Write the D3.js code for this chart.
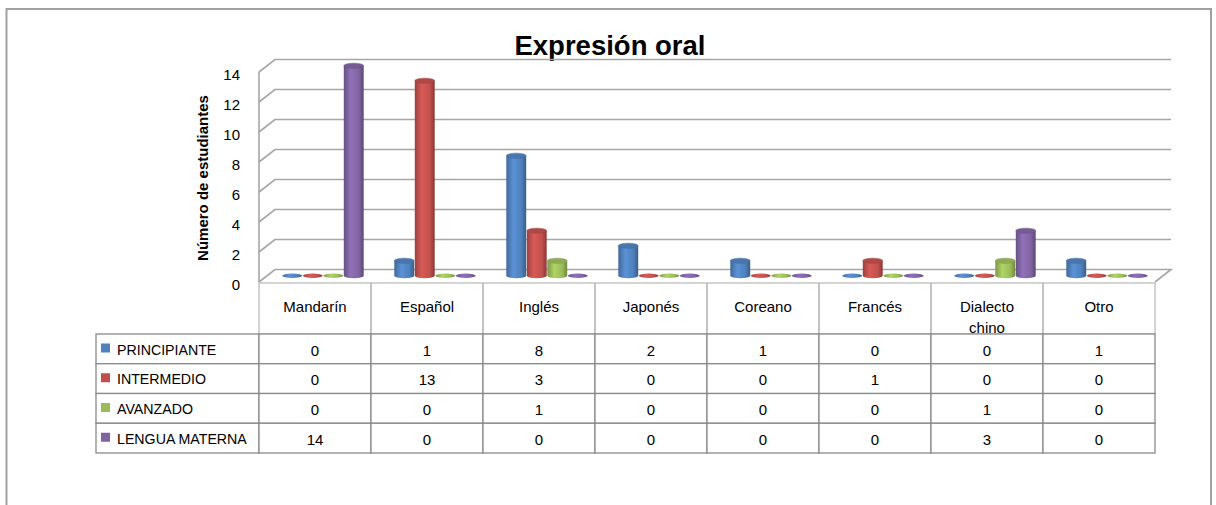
<!DOCTYPE html>
<html>
<head>
<meta charset="utf-8">
<script src="https://cdn.jsdelivr.net/npm/d3@7"></script>
<style>
  html, body { margin: 0; padding: 0; background: #fff; }
  svg { display: block; font-family: "Liberation Sans", Arial, sans-serif; }
</style>
</head>
<body>
<svg id="chart" width="1216" height="505"></svg>
<script>
// Data
const categories = ["Mandarín", "Español", "Inglés", "Japonés", "Coreano", "Francés", "Dialecto chino", "Otro"];
const seriesNames = ["PRINCIPIANTE", "INTERMEDIO", "AVANZADO", "LENGUA MATERNA"];
const principiante = [0, 1, 8, 2, 1, 0, 0, 1];
const intermedio = [0, 13, 3, 0, 0, 1, 0, 0];
const avanzado = [0, 0, 1, 0, 0, 0, 1, 0];
const lenguaMaterna = [14, 0, 0, 0, 0, 0, 3, 0];
const seriesValues = [principiante, intermedio, avanzado, lenguaMaterna];
const yTicks = [0, 2, 4, 6, 8, 10, 12, 14];
const seriesColors = ["#4F81BD", "#C0504D", "#9BBB59", "#8064A2"];

const svg = d3.select("#chart");

// Layout
const plotLeft = 259, plotRight = 1155;
const floorFront = 282;
const depthX = 16, depthY = -12.5;
const gridColor = "#a6a6a6";

const x = d3.scaleBand().domain(categories).range([plotLeft, plotRight]).padding(0);
const bw = x.bandwidth();
const xs = d3.scaleBand().domain(seriesNames).range([bw / 2 - 41, bw / 2 + 41]).padding(0);
const y = d3.scaleLinear().domain([0, 14]).range([0, 210]);

// Outer frame
svg.append("path")
  .attr("d", "M6.5,505 V9 H1211 V505")
  .attr("fill", "none").attr("stroke", "#a0a0a0").attr("stroke-width", 2);

// Title
svg.append("text")
  .attr("x", 610).attr("y", 55)
  .attr("text-anchor", "middle")
  .attr("font-weight", "bold").attr("font-size", 27.5)
  .attr("fill", "#000")
  .text("Expresión oral");

// Y axis title
svg.append("text")
  .attr("transform", "translate(208,178) rotate(-90)")
  .attr("text-anchor", "middle")
  .attr("font-weight", "bold").attr("font-size", 15)
  .text("Número de estudiantes");

// Walls and gridlines
const grid = svg.append("g").attr("fill", "none").attr("stroke", gridColor).attr("stroke-width", 1.6);
yTicks.forEach(t => {
  const yf = floorFront - y(t);
  if (t > 0) {
    grid.append("path").attr("d", `M${plotLeft},${yf} L${plotLeft + depthX},${yf + depthY} H${plotRight + depthX}`);
  }
});
// Floor
grid.append("path")
  .attr("d", `M${plotLeft},${floorFront} L${plotLeft + depthX},${floorFront + depthY} H${plotRight + depthX} L${plotRight},${floorFront}`);
// Front vertical axis line
grid.append("line")
  .attr("x1", plotLeft).attr("x2", plotLeft)
  .attr("y1", floorFront - y(14)).attr("y2", floorFront);

// Tick labels
svg.append("g").selectAll("text").data(yTicks).join("text")
  .attr("x", 240).attr("y", d => floorFront - y(d) + 8)
  .attr("text-anchor", "end").attr("font-size", 15).attr("fill", "#000")
  .text(d => d);

// Gradients for cylinders
const defs = svg.append("defs");
seriesColors.forEach((c, i) => {
  const base = d3.color(c);
  const g = defs.append("linearGradient").attr("id", "cyl" + i).attr("x1", 0).attr("x2", 1).attr("y1", 0).attr("y2", 0);
  g.append("stop").attr("offset", "0%").attr("stop-color", base.darker(0.6));
  g.append("stop").attr("offset", "35%").attr("stop-color", base.brighter(0.35));
  g.append("stop").attr("offset", "75%").attr("stop-color", base);
  g.append("stop").attr("offset", "100%").attr("stop-color", base.darker(0.9));
});

// Cylinders
const barBase = floorFront + depthY / 2;
const rx = xs.bandwidth() / 2 - 0.3, ry = 2.6;
const bars = [];
seriesValues.forEach((vals, si) => {
  vals.forEach((v, ci) => bars.push({ si, ci, v }));
});
const barG = svg.append("g");
bars.forEach(b => {
  const cx = x(categories[b.ci]) + xs(seriesNames[b.si]) + xs.bandwidth() / 2 + depthX / 2;
  const top = barBase - y(b.v);
  const base = d3.color(seriesColors[b.si]);
  const g = barG.append("g");
  if (b.v === 0) {
    g.append("ellipse").attr("cx", cx).attr("cy", barBase).attr("rx", rx).attr("ry", 2.2)
      .attr("fill", `url(#cyl${b.si})`);
    return;
  }
  g.append("path")
    .attr("d", `M${cx - rx},${top} V${barBase} A${rx},${ry} 0 0 0 ${cx + rx},${barBase} V${top} Z`)
    .attr("fill", `url(#cyl${b.si})`);
  g.append("ellipse").attr("cx", cx).attr("cy", top).attr("rx", rx).attr("ry", ry)
    .attr("fill", base.darker(0.25)).attr("stroke", base.darker(0.6)).attr("stroke-width", 0.5);
});

// Data table
const tableTop = 283, headerH = 51, rowH = 29.75;
const legendLeft = 96;
const rows = d3.scaleBand().domain(seriesNames).range([tableTop + headerH, tableTop + headerH + rowH * 4]);
const table = svg.append("g");

// Header cells and category labels
categories.forEach(c => {
  table.append("rect")
    .attr("x", x(c)).attr("y", tableTop).attr("width", bw).attr("height", headerH)
    .attr("fill", "none").attr("stroke", "#b8b8b8").attr("stroke-width", 1.2);
});
categories.forEach(c => {
  const words = c.split(" ");
  const t = table.append("text")
    .attr("x", x(c) + bw / 2).attr("text-anchor", "middle").attr("font-size", 15).attr("fill", "#000");
  if (words.length === 1) {
    t.attr("y", 312).text(c);
  } else {
    words.forEach((w, i) => t.append("tspan").attr("x", x(c) + bw / 2).attr("y", 312 + i * 21).text(w));
  }
});

// Body rows: legend cell plus one value cell per category
const bodyStroke = "#8a8a8a";
seriesNames.forEach((s, si) => {
  const ry0 = rows(s);
  table.append("rect").attr("x", legendLeft).attr("y", ry0).attr("width", plotLeft - legendLeft).attr("height", rowH)
    .attr("fill", "#fff").attr("stroke", bodyStroke).attr("stroke-width", 1.3);
  table.append("rect").attr("x", 101).attr("y", ry0 + 9.5).attr("width", 9).attr("height", 9)
    .attr("fill", seriesColors[si]);
  table.append("text").attr("x", 117).attr("y", ry0 + 20.5).attr("font-size", 14.2).attr("fill", "#000").text(s);
  categories.forEach((c, ci) => {
    table.append("rect").attr("x", x(c)).attr("y", ry0).attr("width", bw).attr("height", rowH)
      .attr("fill", "#fff").attr("stroke", bodyStroke).attr("stroke-width", 1.3);
    table.append("text").attr("x", x(c) + bw / 2).attr("y", ry0 + 21.5)
      .attr("text-anchor", "middle").attr("font-size", 15).attr("fill", "#000")
      .text(seriesValues[si][ci]);
  });
});
</script>
</body>
</html>
